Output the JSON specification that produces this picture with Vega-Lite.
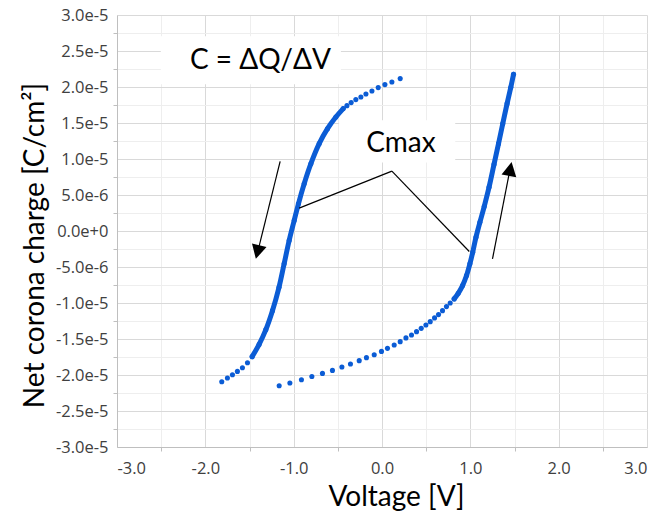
{
  "$schema": "https://vega.github.io/schema/vega-lite/v6.json",
  "width": 530,
  "height": 432,
  "autosize": "none",
  "padding": {"left": 117, "top": 15, "right": 25, "bottom": 65},
  "background": "white",
  "config": {
    "view": {"stroke": null},
    "axis": {
      "domainColor": "#bfbfbf",
      "tickColor": "#bfbfbf",
      "tickSize": 4,
      "labelFont": "Open Sans",
      "labelFontSize": 16.5,
      "labelColor": "#404040",
      "labelOverlap": false,
      "titleFont": "Lato",
      "titleFontSize": 28,
      "titleFontWeight": "normal",
      "titleColor": "#000000"
    }
  },
  "datasets": {
    "pts": [
      {"branch": "down", "i": 1, "v": 0.206, "q": 2.117e-5, "dense": false},
      {"branch": "down", "i": 2, "v": 0.112, "q": 2.070e-5, "dense": false},
      {"branch": "down", "i": 3, "v": 0.033, "q": 2.033e-5, "dense": false},
      {"branch": "down", "i": 4, "v": -0.043, "q": 1.992e-5, "dense": false},
      {"branch": "down", "i": 5, "v": -0.114, "q": 1.944e-5, "dense": false},
      {"branch": "down", "i": 6, "v": -0.182, "q": 1.903e-5, "dense": false},
      {"branch": "down", "i": 7, "v": -0.239, "q": 1.861e-5, "dense": false},
      {"branch": "down", "i": 8, "v": -0.296, "q": 1.825e-5, "dense": false},
      {"branch": "down", "i": 9, "v": -0.349, "q": 1.783e-5, "dense": false},
      {"branch": "down", "i": 10, "v": -0.397, "q": 1.741e-5, "dense": false},
      {"branch": "down", "i": 11, "v": -0.439, "q": 1.700e-5, "dense": true},
      {"branch": "down", "i": 12, "v": -0.522, "q": 1.583e-5, "dense": true},
      {"branch": "down", "i": 13, "v": -0.617, "q": 1.421e-5, "dense": true},
      {"branch": "down", "i": 14, "v": -0.711, "q": 1.213e-5, "dense": true},
      {"branch": "down", "i": 15, "v": -0.805, "q": 0.935e-5, "dense": true},
      {"branch": "down", "i": 16, "v": -0.881, "q": 0.656e-5, "dense": true},
      {"branch": "down", "i": 17, "v": -0.946, "q": 0.378e-5, "dense": true},
      {"branch": "down", "i": 18, "v": -0.994, "q": 0.146e-5, "dense": true},
      {"branch": "down", "i": 20, "v": -1.051, "q": -0.132e-5, "dense": true},
      {"branch": "down", "i": 21, "v": -1.108, "q": -0.456e-5, "dense": true},
      {"branch": "down", "i": 22, "v": -1.166, "q": -0.782e-5, "dense": true},
      {"branch": "down", "i": 23, "v": -1.240, "q": -1.106e-5, "dense": true},
      {"branch": "down", "i": 24, "v": -1.315, "q": -1.370e-5, "dense": true},
      {"branch": "down", "i": 25, "v": -1.391, "q": -1.575e-5, "dense": true},
      {"branch": "down", "i": 26, "v": -1.470, "q": -1.745e-5, "dense": true},
      {"branch": "down", "i": 27, "v": -1.523, "q": -1.830e-5, "dense": false},
      {"branch": "down", "i": 28, "v": -1.580, "q": -1.899e-5, "dense": false},
      {"branch": "down", "i": 29, "v": -1.637, "q": -1.950e-5, "dense": false},
      {"branch": "down", "i": 30, "v": -1.693, "q": -1.996e-5, "dense": false},
      {"branch": "down", "i": 31, "v": -1.750, "q": -2.042e-5, "dense": false},
      {"branch": "down", "i": 32, "v": -1.814, "q": -2.093e-5, "dense": false},
      {"branch": "up", "i": 1, "v": -1.164, "q": -2.149e-5, "dense": false},
      {"branch": "up", "i": 2, "v": -1.043, "q": -2.111e-5, "dense": false},
      {"branch": "up", "i": 3, "v": -0.912, "q": -2.065e-5, "dense": false},
      {"branch": "up", "i": 4, "v": -0.794, "q": -2.020e-5, "dense": false},
      {"branch": "up", "i": 5, "v": -0.674, "q": -1.978e-5, "dense": false},
      {"branch": "up", "i": 6, "v": -0.561, "q": -1.936e-5, "dense": false},
      {"branch": "up", "i": 7, "v": -0.454, "q": -1.889e-5, "dense": false},
      {"branch": "up", "i": 8, "v": -0.357, "q": -1.847e-5, "dense": false},
      {"branch": "up", "i": 9, "v": -0.258, "q": -1.801e-5, "dense": false},
      {"branch": "up", "i": 10, "v": -0.176, "q": -1.759e-5, "dense": false},
      {"branch": "up", "i": 11, "v": -0.088, "q": -1.718e-5, "dense": false},
      {"branch": "up", "i": 12, "v": -0.006, "q": -1.672e-5, "dense": false},
      {"branch": "up", "i": 13, "v": 0.062, "q": -1.630e-5, "dense": false},
      {"branch": "up", "i": 14, "v": 0.138, "q": -1.583e-5, "dense": false},
      {"branch": "up", "i": 15, "v": 0.206, "q": -1.537e-5, "dense": false},
      {"branch": "up", "i": 16, "v": 0.271, "q": -1.485e-5, "dense": false},
      {"branch": "up", "i": 17, "v": 0.334, "q": -1.444e-5, "dense": false},
      {"branch": "up", "i": 18, "v": 0.391, "q": -1.398e-5, "dense": false},
      {"branch": "up", "i": 19, "v": 0.444, "q": -1.352e-5, "dense": false},
      {"branch": "up", "i": 20, "v": 0.497, "q": -1.305e-5, "dense": false},
      {"branch": "up", "i": 21, "v": 0.546, "q": -1.259e-5, "dense": false},
      {"branch": "up", "i": 22, "v": 0.595, "q": -1.207e-5, "dense": false},
      {"branch": "up", "i": 23, "v": 0.640, "q": -1.161e-5, "dense": false},
      {"branch": "up", "i": 24, "v": 0.685, "q": -1.106e-5, "dense": false},
      {"branch": "up", "i": 25, "v": 0.730, "q": -1.050e-5, "dense": false},
      {"branch": "up", "i": 26, "v": 0.772, "q": -0.999e-5, "dense": false},
      {"branch": "up", "i": 27, "v": 0.817, "q": -0.943e-5, "dense": true},
      {"branch": "up", "i": 28, "v": 0.863, "q": -0.865e-5, "dense": true},
      {"branch": "up", "i": 29, "v": 0.912, "q": -0.758e-5, "dense": true},
      {"branch": "up", "i": 30, "v": 0.957, "q": -0.618e-5, "dense": true},
      {"branch": "up", "i": 31, "v": 0.995, "q": -0.456e-5, "dense": true},
      {"branch": "up", "i": 32, "v": 1.027, "q": -0.295e-5, "dense": true},
      {"branch": "up", "i": 33, "v": 1.064, "q": -0.086e-5, "dense": true},
      {"branch": "up", "i": 34, "v": 1.108, "q": 0.120e-5, "dense": true},
      {"branch": "up", "i": 35, "v": 1.157, "q": 0.340e-5, "dense": true},
      {"branch": "up", "i": 36, "v": 1.212, "q": 0.609e-5, "dense": true},
      {"branch": "up", "i": 37, "v": 1.268, "q": 0.925e-5, "dense": true},
      {"branch": "up", "i": 38, "v": 1.319, "q": 1.213e-5, "dense": true},
      {"branch": "up", "i": 39, "v": 1.367, "q": 1.491e-5, "dense": true},
      {"branch": "up", "i": 40, "v": 1.416, "q": 1.769e-5, "dense": true},
      {"branch": "up", "i": 41, "v": 1.458, "q": 1.995e-5, "dense": true},
      {"branch": "up", "i": 42, "v": 1.489, "q": 2.177e-5, "dense": true}
    ],
    "boxes": [
      {"v": -2.504, "v2": -0.465, "q": 2.705e-5, "q2": 2.038e-5},
      {"v": -0.485, "v2": 0.829, "q": 1.537e-5, "q2": 0.953e-5}
    ],
    "shafts": [
      {"kind": "arrow", "v": -1.153, "q": 0.967e-5, "v2": -1.405, "q2": -0.28e-5},
      {"kind": "arrow", "v": 1.251, "q": -0.387e-5, "v2": 1.448, "q2": 0.85e-5},
      {"kind": "leader", "v": 0.112, "q": 0.832e-5, "v2": -0.938, "q2": 0.317e-5},
      {"kind": "leader", "v": 0.112, "q": 0.832e-5, "v2": 0.988, "q2": -0.285e-5}
    ],
    "heads": [
      {"dir": "down", "v": -1.428, "q": -0.387e-5},
      {"dir": "up", "v": 1.467, "q": 0.957e-5}
    ],
    "notes": [
      {"label": "C = ΔQ/ΔV", "v": -1.376, "q": 2.362e-5},
      {"label": "Cmax", "v": 0.214, "q": 1.213e-5}
    ]
  },
  "encoding": {
    "x": {
      "field": "v",
      "type": "quantitative",
      "scale": {"domain": [-3, 3], "nice": false, "zero": false},
      "axis": {
        "title": "Voltage [V]",
        "titleX": 279,
        "titleY": 58,
        "titleAlign": "center",
        "titleBaseline": "alphabetic",
        "values": [-3, -2.5, -2, -1.5, -1, -0.5, 0, 0.5, 1, 1.5, 2, 2.5, 3],
        "labelExpr": "datum.value % 1 == 0 ? replace(format(datum.value, '.1f'), '−', '-') : ''",
        "labelPadding": 9,
        "grid": true,
        "gridColor": {"condition": {"test": "datum.value % 1 == 0", "value": "#d9d9d9"}, "value": "#eeeeee"},
        "tickOpacity": {"condition": {"test": "datum.value % 1 == 0", "value": 0}, "value": 1}
      }
    },
    "y": {
      "field": "q",
      "type": "quantitative",
      "scale": {"domain": [-3e-5, 3e-5], "nice": false, "zero": false},
      "axis": {
        "title": "Net corona charge [C/cm²]",
        "titleX": -74,
        "titleY": 230,
        "titleAngle": 270,
        "titleAlign": "center",
        "titleBaseline": "alphabetic",
        "values": [-3e-5, -2.75e-5, -2.5e-5, -2.25e-5, -2e-5, -1.75e-5, -1.5e-5, -1.25e-5, -1e-5, -7.5e-6, -5e-6, -2.5e-6, 0, 2.5e-6, 5e-6, 7.5e-6, 1e-5, 1.25e-5, 1.5e-5, 1.75e-5, 2e-5, 2.25e-5, 2.5e-5, 2.75e-5, 3e-5],
        "labelExpr": "abs(datum.value * 2e5 - round(datum.value * 2e5)) < 0.01 ? replace(format(datum.value, '.1e'), '−', '-') : ''",
        "labelPadding": 5,
        "grid": true,
        "gridColor": {"condition": {"test": "abs(datum.value * 2e5 - round(datum.value * 2e5)) < 0.01", "value": "#d9d9d9"}, "value": "#eeeeee"},
        "tickOpacity": {"condition": {"test": "abs(datum.value * 2e5 - round(datum.value * 2e5)) < 0.01", "value": 0}, "value": 1}
      }
    }
  },
  "layer": [
    {
      "data": {"name": "boxes"},
      "mark": {"type": "rect", "color": "white"},
      "encoding": {"x2": {"field": "v2"}, "y2": {"field": "q2"}}
    },
    {
      "data": {"name": "pts"},
      "transform": [{"filter": "datum.dense"}],
      "mark": {"type": "line", "color": "#0b5cd5", "strokeWidth": 5, "strokeCap": "round", "strokeJoin": "round", "interpolate": "catmull-rom"},
      "encoding": {"detail": {"field": "branch"}, "order": {"field": "i", "type": "quantitative"}}
    },
    {
      "data": {"name": "pts"},
      "mark": {"type": "circle", "color": "#0b5cd5", "opacity": 1, "size": 26},
      "encoding": {}
    },
    {
      "data": {"name": "shafts"},
      "mark": {"type": "rule", "color": "black", "strokeWidth": 1.2},
      "encoding": {"x2": {"field": "v2"}, "y2": {"field": "q2"}}
    },
    {
      "data": {"name": "heads"},
      "transform": [{"filter": "datum.dir == 'down'"}],
      "mark": {"type": "point", "shape": "M0,0L-0.75,1.4L0.75,1.4Z", "filled": true, "color": "black", "opacity": 1, "size": 400, "angle": 194},
      "encoding": {}
    },
    {
      "data": {"name": "heads"},
      "transform": [{"filter": "datum.dir == 'up'"}],
      "mark": {"type": "point", "shape": "M0,0L-0.75,1.4L0.75,1.4Z", "filled": true, "color": "black", "opacity": 1, "size": 400, "angle": 11},
      "encoding": {}
    },
    {
      "data": {"name": "notes"},
      "mark": {"type": "text", "font": "Lato", "fontSize": 28, "color": "black", "align": "center", "baseline": "middle"},
      "encoding": {"text": {"field": "label"}}
    }
  ]
}
